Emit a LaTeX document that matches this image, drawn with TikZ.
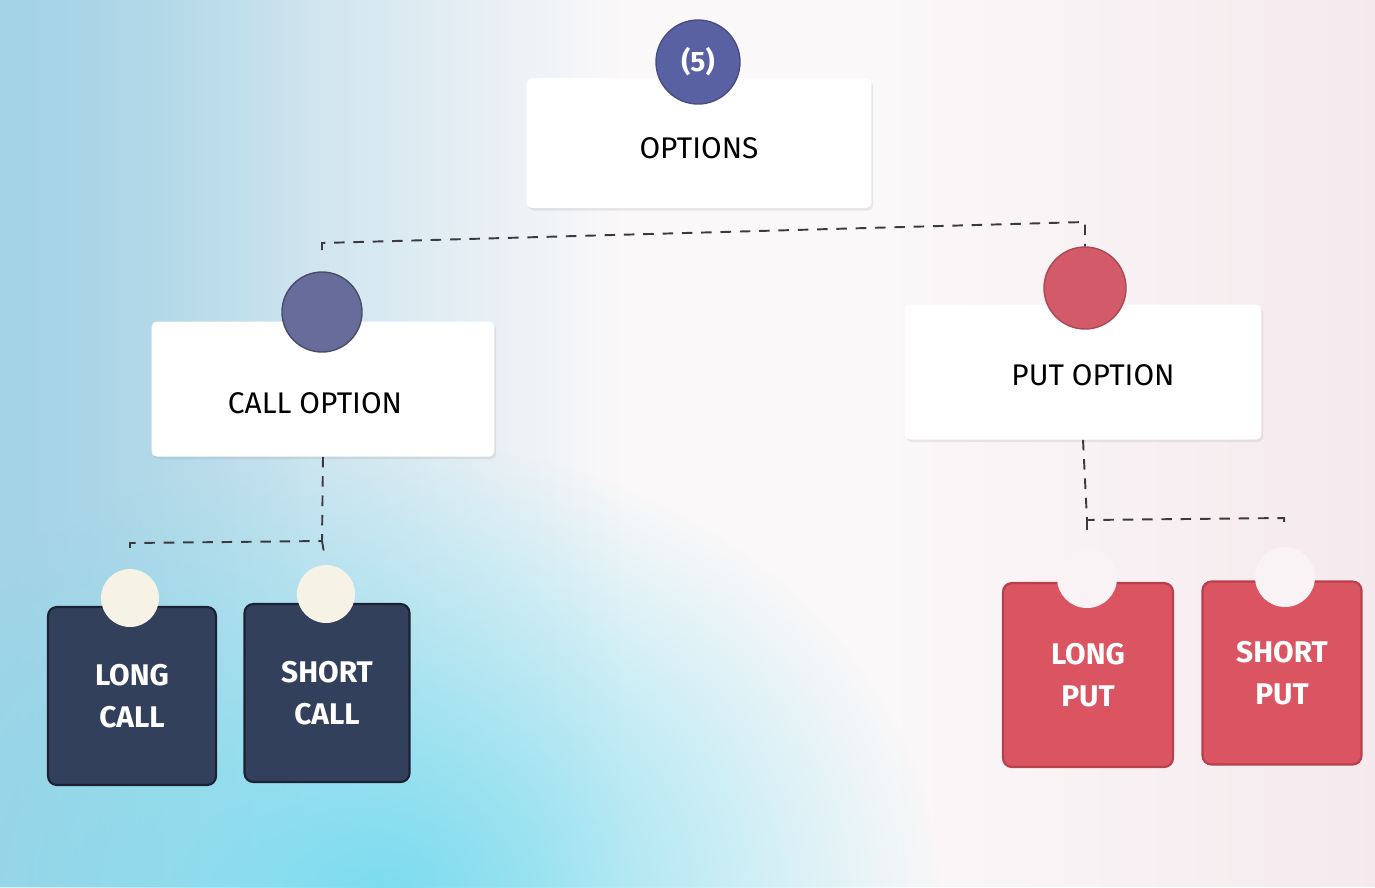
\documentclass[tikz,border=0pt]{standalone}
\usepackage{fontspec}
\setmainfont{Fira Sans}
\usetikzlibrary{shadows,fadings}
\definecolor{bgblue}{HTML}{A4D3E6}
\definecolor{bgcyan}{HTML}{7ADCEF}
\definecolor{bgpink}{HTML}{F4E6EA}
\definecolor{topdot}{HTML}{5A61A3}
\definecolor{calldot}{HTML}{676C9A}
\definecolor{putdot}{HTML}{D35B69}
\definecolor{callbox}{HTML}{33405C}
\definecolor{callrim}{HTML}{1C2233}
\definecolor{putbox}{HTML}{DA5461}
\definecolor{putrim}{HTML}{B8404C}
\definecolor{cream}{HTML}{F6F3E6}
\definecolor{linkc}{HTML}{3A3A40}
\definecolor{paper}{HTML}{FBF8F9}
\tikzfading[name=softglow, inner color=transparent!0, outer color=transparent!100]
\tikzset{
  x=0.02cm, y=-0.02cm,
  card/.style={draw=none, fill=white, rounded corners=3pt,
    drop shadow={opacity=0.15, shadow xshift=1pt, shadow yshift=-1.5pt}},
  title/.style={font=\fontsize{17}{20}\selectfont, text=black},
  leaf/.style={rounded corners=5pt, line width=1.2pt, align=center,
    font=\bfseries\fontsize{17}{24}\selectfont, text=white},
  callleaf/.style={leaf, fill=callbox, draw=callrim},
  putleaf/.style={leaf, fill=putbox, draw=putrim},
  badge/.style={circle, inner sep=0pt, line width=0.8pt},
  link/.style={draw=linkc, line width=1.1pt, dash pattern=on 6pt off 5pt}
}
\begin{document}
\begin{tikzpicture}
% backdrop: pale paper, blue wash on the left, pink tint on the right
\useasboundingbox (0,0) rectangle (1375,887);
\fill[paper] (0,0) rectangle (1375,887);
\fill[bgblue, path fading=east] (0,0) rectangle (620,887);
\fill[bgblue, path fading=east, opacity=0.6] (0,0) rectangle (300,887);
\fill[bgcyan, path fading=softglow, fit fading=true]
  (380,900) ellipse [x radius=560, y radius=460];
\fill[bgpink, path fading=west, opacity=0.8] (900,0) rectangle (1375,887);

% top card
\node[card, minimum width=6.9cm, minimum height=2.6cm] (opt) at (699,143) {};
\node[title] (optt) at (699,148) {OPTIONS};
\node[badge, fill=topdot, draw=topdot!80!black, minimum size=1.68cm,
      text=white, font=\bfseries\fontsize{16}{18}\selectfont] (c5) at (698,62) {(5)};

% second level cards
\node[card, minimum width=6.86cm, minimum height=2.7cm] (call) at (323,389) {};
\node[title] (callt) at (315,403) {CALL OPTION};
\node[badge, fill=calldot, draw=calldot!70!black, minimum size=1.6cm] (ccall) at (322,312) {};

\node[card, minimum width=7.14cm, minimum height=2.7cm, fill=white] (put) at (1083,372) {};
\node[title] (putt) at (1093,375) {PUT OPTION};
\node[badge, fill=putdot, draw=putdot!80!black, minimum size=1.64cm] (cput) at (1085,288) {};

% leaves
\node[callleaf, minimum width=3.36cm, minimum height=3.56cm] (lc) at (132,696) {LONG\\CALL};
\node[callleaf, minimum width=3.3cm, minimum height=3.56cm] (sc) at (327,693) {SHORT\\CALL};
\node[badge, fill=cream, minimum size=1.16cm] (lcd) at (130,598) {};
\node[badge, fill=cream, minimum size=1.16cm] (scd) at (326,594) {};

\node[putleaf, minimum width=3.4cm, minimum height=3.68cm] (lp) at (1088,675) {LONG\\PUT};
\node[putleaf, minimum width=3.18cm, minimum height=3.66cm] (sp) at (1282,673) {SHORT\\PUT};
\node[badge, fill=paper!75!bgpink, minimum size=1.2cm] (lpd) at (1087,578) {};
\node[badge, fill=paper!75!bgpink, minimum size=1.2cm] (spd) at (1285,577) {};

% connectors
\coordinate (jl) at (322,243);
\coordinate (jr) at (1085,222);
\draw[link, shorten <=12pt] (ccall.north) -- (jl) -- (jr) -- (cput.north);

\coordinate (jc) at (322,541);
\coordinate (jcl) at (130,543);
\draw[link, shorten >=8pt] (call.south) -- (jc) -- (jcl) -- (lcd.north);
\draw[link, shorten >=8pt] (jc) -- (scd.north);

\coordinate (jp) at (1087,520);
\coordinate (jpr) at (1284,518);
\draw[link, shorten >=10pt] (put.south) -- (jp) -- (jpr) -- (spd.north);
\draw[link, shorten >=10pt] (jp) -- (lpd.north);
\end{tikzpicture}
\end{document}
